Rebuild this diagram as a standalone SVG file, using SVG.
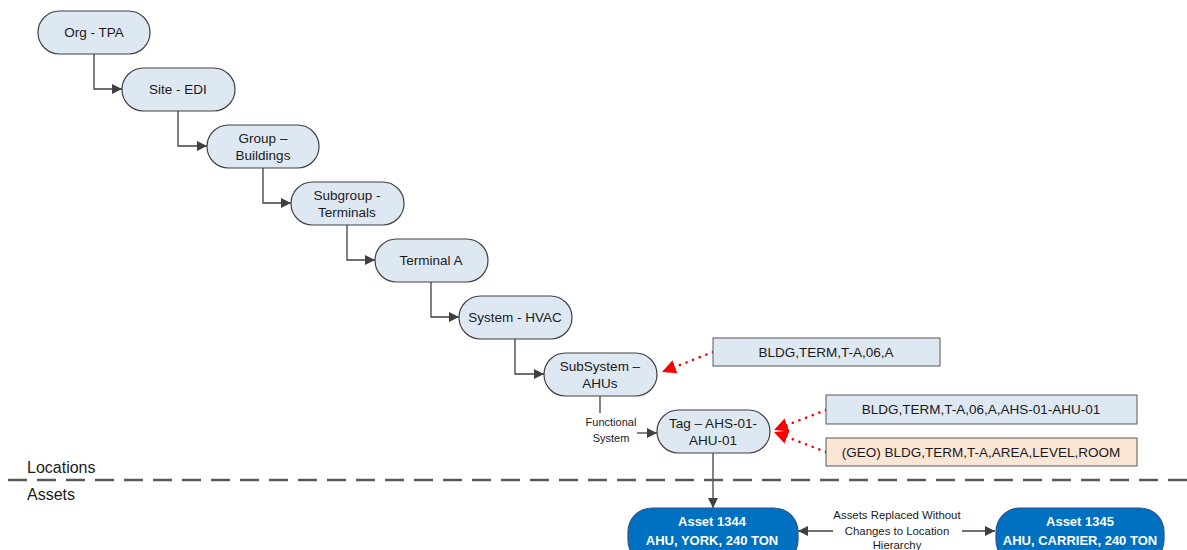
<svg xmlns="http://www.w3.org/2000/svg" width="1187" height="550" viewBox="0 0 1187 550">
  <style>
    .node rect { fill: #dee8f2; stroke: #404040; stroke-width: 1.2; }
    .node text { font-family: "Liberation Sans", Arial, sans-serif; font-size: 13.5px; fill: #1a1a1a; text-anchor: middle; }
    .code rect { stroke: #595959; stroke-width: 1; }
    .code text { font-family: "Liberation Sans", Arial, sans-serif; font-size: 13.5px; fill: #1a1a1a; text-anchor: middle; }
    .asset rect { fill: #0070c0; stroke: #2f528f; stroke-width: 1.2; }
    .asset text { font-family: "Liberation Sans", Arial, sans-serif; font-size: 13px; font-weight: bold; fill: #ffffff; text-anchor: middle; }
    .link { fill: none; stroke: #404040; stroke-width: 1.3; }
    .ref { fill: none; stroke: #ff0000; stroke-width: 2.6; stroke-dasharray: 0.1 7; stroke-linecap: round; }
    .small { font-family: "Liberation Sans", Arial, sans-serif; font-size: 11px; fill: #1a1a1a; text-anchor: middle; }
    .small.wide { font-size: 11.4px; }
    .zone { font-family: "Liberation Sans", Arial, sans-serif; font-size: 16px; fill: #1a1a1a; }
  </style>
  <defs>
    <marker id="arr" viewBox="0 0 10 10" refX="10" refY="5" markerWidth="10" markerHeight="10" markerUnits="userSpaceOnUse" orient="auto-start-reverse">
      <path d="M0,0 L10,5 L0,10 z" fill="#404040"/>
    </marker>
    <marker id="arrRed" viewBox="0 0 10 10" refX="10" refY="5" markerWidth="14" markerHeight="14" markerUnits="userSpaceOnUse" orient="auto">
      <path d="M0,0 L10,5 L0,10 z" fill="#ff0000"/>
    </marker>
  </defs>

  <!-- location hierarchy connectors -->
  <g id="connectors">
    <path class="link" d="M94,54 V89 H122" marker-end="url(#arr)"/>
    <path class="link" d="M178,111 V146 H207" marker-end="url(#arr)"/>
    <path class="link" d="M263,168 V203 H291" marker-end="url(#arr)"/>
    <path class="link" d="M347,225 V260 H375" marker-end="url(#arr)"/>
    <path class="link" d="M431,282 V317 H459" marker-end="url(#arr)"/>
    <path class="link" d="M515,339 V374 H544" marker-end="url(#arr)"/>
    <path class="link" d="M600,396 V413"/>
    <path class="link" d="M637,433 H657" marker-end="url(#arr)"/>
    <path class="link" d="M713,453 V508" marker-end="url(#arr)"/>
    <path class="link" d="M833,531 H798" marker-end="url(#arr)"/>
    <path class="link" d="M962,531 H995" marker-end="url(#arr)"/>
    <path class="ref" d="M713,352 L662,372" marker-end="url(#arrRed)"/>
    <path class="ref" d="M826,410 L774,430" marker-end="url(#arrRed)"/>
    <path class="ref" d="M826,452 L774,432" marker-end="url(#arrRed)"/>
  </g>

  <!-- hierarchy nodes -->
  <g id="org" class="node"><rect x="38" y="11" width="112" height="43" rx="21.5"/><text x="94" y="37">Org - TPA</text></g>
  <g id="site" class="node"><rect x="122" y="68" width="113" height="43" rx="21.5"/><text x="178" y="94">Site - EDI</text></g>
  <g id="group" class="node"><rect x="207" y="125" width="112" height="43" rx="21.5"/><text x="263" y="143">Group –</text><text x="263" y="160">Buildings</text></g>
  <g id="subgroup" class="node"><rect x="291" y="182" width="113" height="43" rx="21.5"/><text x="347" y="200">Subgroup -</text><text x="347" y="217">Terminals</text></g>
  <g id="terminal" class="node"><rect x="375" y="239" width="113" height="43" rx="21.5"/><text x="431" y="265">Terminal A</text></g>
  <g id="system" class="node"><rect x="459" y="296" width="113" height="43" rx="21.5"/><text x="515" y="322">System - HVAC</text></g>
  <g id="subsystem" class="node"><rect x="544" y="353" width="113" height="43" rx="21.5"/><text x="600" y="371">SubSystem –</text><text x="600" y="388">AHUs</text></g>
  <g id="tag" class="node"><rect x="657" y="410" width="113" height="43" rx="21.5"/><text x="713" y="428">Tag – AHS-01-</text><text x="713" y="445">AHU-01</text></g>

  <g id="functional-label">
    <text class="small" x="611" y="426">Functional</text>
    <text class="small" x="611" y="442">System</text>
  </g>

  <!-- location codes -->
  <g id="code-subsystem" class="code"><rect x="713" y="338" width="227" height="28" fill="#dee8f2"/><text x="826" y="357">BLDG,TERM,T-A,06,A</text></g>
  <g id="code-tag" class="code"><rect x="826" y="395" width="311" height="29" fill="#dee8f2"/><text x="981" y="414">BLDG,TERM,T-A,06,A,AHS-01-AHU-01</text></g>
  <g id="code-geo" class="code"><rect x="826" y="438" width="311" height="28" fill="#fbe6d6"/><text x="981" y="457">(GEO) BLDG,TERM,T-A,AREA,LEVEL,ROOM</text></g>

  <!-- locations / assets divider -->
  <g id="divider">
    <line x1="8" y1="480" x2="1187" y2="480" stroke="#595959" stroke-width="2.5" stroke-dasharray="19 10"/>
    <text class="zone" x="27" y="473">Locations</text>
    <text class="zone" x="27" y="500">Assets</text>
  </g>

  <!-- assets -->
  <g id="asset-1344" class="asset"><rect x="628" y="508" width="170" height="56" rx="24"/><text x="712" y="526">Asset 1344</text><text x="712" y="545">AHU, YORK, 240 TON</text></g>
  <g id="asset-1345" class="asset"><rect x="996" y="508" width="168" height="56" rx="24"/><text x="1080" y="526">Asset 1345</text><text x="1080" y="545">AHU, CARRIER, 240 TON</text></g>

  <g id="replace-label">
    <text class="small wide" x="897" y="519">Assets Replaced Without</text>
    <text class="small wide" x="897" y="535">Changes to Location</text>
    <text class="small wide" x="897" y="549">Hierarchy</text>
  </g>
</svg>
